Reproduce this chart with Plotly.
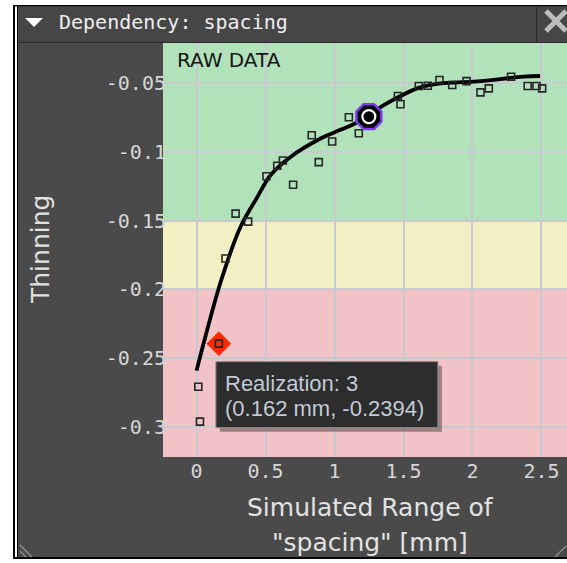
import plotly.graph_objects as go

# ---- data -------------------------------------------------------------
# simulated realizations: spacing [mm] vs thinning
spacing_mm = [0.013, 0.025, 0.162, 0.21, 0.283, 0.374, 0.507, 0.585, 0.626, 0.70,
              0.835, 0.886, 0.983, 1.104, 1.176, 1.249, 1.459, 1.478, 1.611, 1.676,
              1.761, 1.853, 1.957, 2.058, 2.118, 2.28, 2.40, 2.464, 2.505]
thinning = [-0.2707, -0.2961, -0.2394, -0.1775, -0.1449, -0.1507, -0.1178, -0.1101, -0.1063, -0.1239,
            -0.0880, -0.1075, -0.0925, -0.0749, -0.0865, -0.0744, -0.0594, -0.0654, -0.0522, -0.0520,
            -0.0478, -0.0514, -0.0486, -0.0568, -0.0539, -0.0454, -0.0522, -0.0522, -0.0539]

# fitted response curve
fit_x = [0.0, 0.065, 0.18, 0.319, 0.44, 0.536, 0.681, 0.899, 1.043, 1.152,
         1.357, 1.609, 1.768, 2.007, 2.37, 2.49]
fit_y = [-0.259, -0.234, -0.193, -0.1545, -0.133, -0.117, -0.1037, -0.0903, -0.084, -0.0792,
         -0.066, -0.0535, -0.0502, -0.049, -0.0454, -0.0449]

# hovered realization and selected design point
hover_realization = 3
hover_x = [0.162]
hover_y = [-0.2394]
selected_x = [1.249]
selected_y = [-0.0744]

x_ticks = [0, 0.5, 1, 1.5, 2, 2.5]
x_ticktext = ["0", "0.5", "1", "1.5", "2", "2.5"]
y_ticks = [-0.05, -0.1, -0.15, -0.2, -0.25, -0.3]
y_ticktext = ["-0.05", "-0.1", "-0.15", "-0.2", "-0.25", "-0.3"]

# quality bands (lower, upper, colour)
band_limits = [(-0.15, 0.0), (-0.2, -0.15), (-0.4, -0.2)]
band_colors = ["#b1e2ba", "#f1efc3", "#f1c3c6"]

X_RANGE = [-0.243, 2.685]
Y_RANGE = [-0.3218, -0.0209]

# ---- page geometry (pixels) ------------------------------------------
W_PX, H_PX = 567, 563
L, T = 163, 43
PW, PH = W_PX - L, 457 - T

def px(x):
    return (x - L) / PW

def py(y):
    return (T + PH - y) / PH

PANEL = "#4a4a4a"
TICK_FONT = dict(family="DejaVu Sans Mono", size=20, color="#d6d6d6")

fig = go.Figure()

# fitted curve
fig.add_trace(go.Scatter(x=fit_x, y=fit_y, mode="lines", line_shape="spline",
                         line=dict(color="black", width=3.8), hoverinfo="skip"))
# hover highlight diamond
fig.add_trace(go.Scatter(x=hover_x, y=hover_y, mode="markers",
                         marker=dict(symbol="diamond", size=19, color="#ff2a00",
                                     line=dict(width=0)), hoverinfo="skip"))
# realizations
fig.add_trace(go.Scatter(x=spacing_mm, y=thinning, mode="markers",
                         marker=dict(symbol="square-open", size=7, color="#262626",
                                     line=dict(width=1.6)), hoverinfo="skip"))
# selected point
fig.add_trace(go.Scatter(x=selected_x, y=selected_y, mode="markers",
                         marker=dict(symbol="octagon", size=27, color="black",
                                     line=dict(color="#7b3cf0", width=2.5)), hoverinfo="skip"))
fig.add_trace(go.Scatter(x=selected_x, y=selected_y, mode="markers",
                         marker=dict(symbol="circle-open", size=13, color="white",
                                     line=dict(width=2.2)), hoverinfo="skip"))

shapes = []
# background bands
for (lo, hi), col in zip(band_limits, band_colors):
    shapes.append(dict(type="rect", xref="paper", yref="y", x0=0, x1=1, y0=lo, y1=hi,
                       fillcolor=col, line=dict(width=0), layer="below"))

def rect(x0, y0, x1, y1, color, layer="above"):
    shapes.append(dict(type="rect", xref="paper", yref="paper",
                       x0=px(x0), x1=px(x1), y0=py(y1), y1=py(y0),
                       fillcolor=color, line=dict(width=0), layer=layer))

def seg(x0, y0, x1, y1, color, width):
    shapes.append(dict(type="line", xref="paper", yref="paper",
                       x0=px(x0), x1=px(x1), y0=py(y0), y1=py(y1),
                       line=dict(color=color, width=width), layer="above"))

# window frame
rect(0, 0, 13, H_PX, "white")
rect(0, 0, W_PX, 5, "white")
rect(0, 559, W_PX, H_PX, "white")
rect(13, 5, 15, 559, "black")
rect(15, 6, 17, 557, "white")
rect(17, 6, 18, 557, "black")
rect(13, 5, W_PX, 6.5, "black")
rect(13, 557, W_PX, 559, "black")
# title bar
rect(18, 6.5, W_PX, 42, "#464646")
rect(18, 42, W_PX, 43, "#2a2a2a")
rect(536, 6.5, 537, 42, "#2a2a2a")
shapes.append(dict(type="path", xref="paper", yref="paper",
                   path=f"M {px(25)},{py(18)} L {px(43)},{py(18)} L {px(34)},{py(27)} Z",
                   fillcolor="white", line=dict(width=0), layer="above"))
seg(546, 11, 566, 31, "#bdbdbd", 5)
seg(546, 31, 566, 11, "#bdbdbd", 5)
# resize grips
seg(20, 545, 32, 557, "#8a8a8a", 1.5)
seg(20, 551, 26, 557, "#8a8a8a", 1.5)
seg(555, 557, 566, 546, "#8a8a8a", 1.5)

# tooltip box anchored to the hovered realization
for dx, dy, col, border in [(4, -4, "rgba(0,0,0,0.35)", None), (0, 0, "#2d2d2d", "#8c8c8c")]:
    shapes.append(dict(type="rect", xref="x", yref="y",
                       xsizemode="pixel", ysizemode="pixel",
                       xanchor=hover_x[0], yanchor=hover_y[0],
                       x0=-3 + dx, x1=219 + dx, y0=-84 + dy, y1=-18 + dy,
                       fillcolor=col,
                       line=dict(color=border, width=1) if border else dict(width=0),
                       layer="above"))

annotations = [
    dict(text="Dependency: spacing", xref="paper", yref="paper", x=px(57), y=py(22),
         xanchor="left", yanchor="middle", showarrow=False,
         font=dict(family="DejaVu Sans Mono", size=20, color="#eeeeee")),
    dict(text="RAW DATA", xref="paper", yref="paper", x=px(175), y=py(60),
         xanchor="left", yanchor="middle", showarrow=False,
         font=dict(family="DejaVu Sans", size=20, color="#151515")),
    dict(text="Thinning", xref="paper", yref="paper", x=px(40), y=py(250),
         xanchor="center", yanchor="middle", textangle=-90, showarrow=False,
         font=dict(family="DejaVu Sans", size=25, color="#e2e2e2")),
    dict(text="Simulated Range of", xref="paper", yref="paper", x=px(370), y=py(507),
         xanchor="center", yanchor="middle", showarrow=False,
         font=dict(family="DejaVu Sans", size=25, color="#e2e2e2")),
    dict(text="\"spacing\" [mm]", xref="paper", yref="paper", x=px(370), y=py(542),
         xanchor="center", yanchor="middle", showarrow=False,
         font=dict(family="DejaVu Sans", size=25, color="#e2e2e2")),
    dict(text=f"Realization: {hover_realization}", xref="x", yref="y",
         x=hover_x[0], y=hover_y[0], xshift=4, yshift=-40,
         xanchor="left", yanchor="middle", showarrow=False,
         font=dict(family="Liberation Sans", size=22, color="#c2cad6")),
    dict(text=f"({hover_x[0]:.3f} mm, {hover_y[0]:.4f})", xref="x", yref="y",
         x=hover_x[0], y=hover_y[0], xshift=4, yshift=-65,
         xanchor="left", yanchor="middle", showarrow=False,
         font=dict(family="Liberation Sans", size=22, color="#c2cad6")),
]

fig.update_layout(
    width=W_PX, height=H_PX,
    margin=dict(l=L, r=0, t=T, b=H_PX - T - PH),
    paper_bgcolor=PANEL, plot_bgcolor="rgba(0,0,0,0)",
    showlegend=False,
    shapes=shapes, annotations=annotations,
    xaxis=dict(range=X_RANGE, tickvals=x_ticks, ticktext=x_ticktext,
               showgrid=True, gridcolor="#c9c9d0", gridwidth=2, zeroline=False,
               showline=False, ticks="", tickfont=TICK_FONT, fixedrange=True),
    yaxis=dict(range=Y_RANGE, tickvals=y_ticks, ticktext=y_ticktext,
               showgrid=True, gridcolor="#c9c9d0", gridwidth=2, zeroline=False,
               showline=False, ticks="", tickfont=TICK_FONT, fixedrange=True,
               ticklabelstandoff=-4),
)

fig.write_html("out.html", config={"displayModeBar": False})
